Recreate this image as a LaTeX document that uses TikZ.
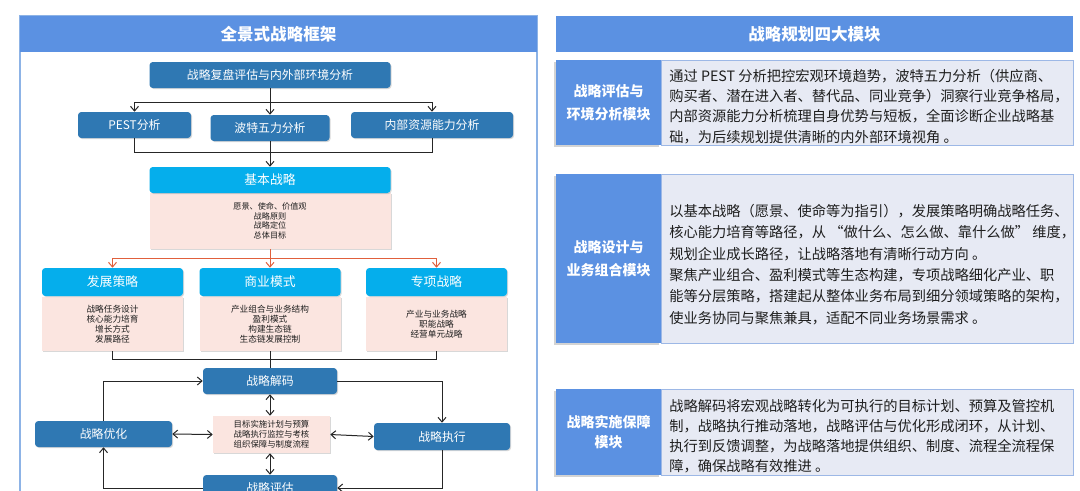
\documentclass[tikz,border=0pt]{standalone}
\usepackage{fontspec}
\setmainfont{Noto Sans CJK SC}
\usetikzlibrary{arrows.meta,shadows}

\definecolor{titleblue}{HTML}{5B91E2}
\definecolor{paneledge}{HTML}{8DB3E6}
\definecolor{stepblue}{HTML}{2F78B3}
\definecolor{basecyan}{HTML}{05AEEC}
\definecolor{bodypink}{HTML}{FBE5E0}
\definecolor{flowred}{HTML}{E0603C}
\definecolor{modfill}{HTML}{E7EAF4}
\definecolor{modedge}{HTML}{9DB8E6}
\definecolor{inktext}{HTML}{1E1E1E}

\newcommand{\fs}[2]{\fontsize{#1}{#2}\selectfont}

\tikzset{
  wh/.style 2 args={minimum width=#1*0.75pt, minimum height=#2*0.75pt},
  ttl/.style={fill=titleblue, text=white, font=\bfseries\fs{12.4}{14}, inner sep=0pt},
  stepbox/.style={fill=stepblue, text=white, rounded corners=2.5pt, inner sep=0pt, font=\fs{8.9}{10},
    drop shadow={shadow xshift=0.8pt, shadow yshift=-0.8pt, opacity=0.3}},
  cyanhd/.style={fill=basecyan, text=white, rounded corners=2.5pt, inner sep=0pt, font=\fs{9.6}{10},
    drop shadow={shadow xshift=0.8pt, shadow yshift=-0.8pt, opacity=0.3}},
  pinkbd/.style={fill=bodypink, text=inktext, inner sep=0pt, align=center, font=\fs{6.5}{7.6},
    drop shadow={shadow xshift=0.8pt, shadow yshift=-0.8pt, opacity=0.3}},
  ln/.style={line width=0.75pt, black!85},
  arr/.style={ln, -{Straight Barb[length=3.5pt,width=6pt]}},
  darr/.style={ln, {Straight Barb[length=3.5pt,width=6pt]}-{Straight Barb[length=3.5pt,width=6pt]}},
  rln/.style={line width=0.75pt, flowred},
  rarr/.style={rln, -{Straight Barb[length=3.5pt,width=6pt]}},
  modlbl/.style={fill=titleblue, text=white, font=\bfseries\fs{10.5}{17}, align=center, inner sep=0pt,
    drop shadow={shadow xshift=-1.2pt, shadow yshift=-1.5pt, opacity=0.35}},
  modbox/.style={fill=modfill, draw=modedge, line width=0.6pt, inner sep=0pt},
  modtxt/.style={text=inktext, align=left, anchor=west, inner sep=0pt},
}

\begin{document}
\begin{tikzpicture}[x=0.75pt,y=-0.75pt]
\useasboundingbox (0,0) rectangle (1080,490);
\clip (0,0) rectangle (1080,490);

% left panel
\draw[paneledge, fill=white, line width=0.8pt] (20,16) rectangle (537,500);
\node[ttl, wh={517}{36}] (ltitle) at (278.5,34) {全景式战略框架};

\node[stepbox, wh={241}{26}] (review) at (270,75) {战略复盘评估与内外部环境分析};
\node[stepbox, wh={113}{26}] (pest) at (134.5,125) {PEST分析};
\node[stepbox, wh={119}{26}] (porter) at (270,128) {波特五力分析};
\node[stepbox, wh={162}{26}] (inner) at (432,125) {内部资源能力分析};
\coordinate (j1) at (270,102);
\coordinate (j2) at (270,152);
\draw[ln] (review.south) -- (j1);
\draw[arr] (j1) -| (pest.north);
\draw[arr] (j1) -- (porter.north);
\draw[arr] (j1) -| (inner.north);
\draw[ln] (pest.south) |- (j2);
\draw[ln] (inner.south) |- (j2);
\draw[ln] (porter.south) -- (j2);

\node[pinkbd, wh={241}{56}, font=\fs{6.1}{7.2}] (basicbd) at (270,221) {愿景、使命、价值观\\战略原则\\战略定位\\总体目标};
\node[cyanhd, wh={241}{26}] (basichd) at (270,180) {基本战略};
\draw[arr] (j2) -- (basichd.north);

\node[pinkbd, wh={141}{54}] (devbd) at (112.5,324) {战略任务设计\\核心能力培育\\增长方式\\发展路径};
\node[pinkbd, wh={141}{54}] (bizbd) at (270,324) {产业组合与业务结构\\盈利模式\\构建生态链\\生态链发展控制};
\node[pinkbd, wh={141}{54}] (specbd) at (436.5,324) {产业与业务战略\\职能战略\\经营单元战略};
\node[cyanhd, wh={141}{28}] (dev) at (112.5,282) {发展策略};
\node[cyanhd, wh={141}{28}] (biz) at (270,282) {商业模式};
\node[cyanhd, wh={141}{28}] (spec) at (436.5,282) {专项战略};
\coordinate (j3) at (270,258);
\draw[rln] (basicbd.south) -- (j3);
\draw[rarr] (j3) -| (dev.north);
\draw[rarr] (j3) -- (biz.north);
\draw[rarr] (j3) -| (spec.north);

% implementation loop
\node[stepbox, wh={134}{26}] (dec) at (270,381) {战略解码};
\node[stepbox, wh={137}{26}] (opt) at (103.5,434) {战略优化};
\node[stepbox, wh={136}{27}] (exe) at (442,436.5) {战略执行};
\node[pinkbd, wh={117}{37}, font=\fs{6.3}{7.4}] (ctr) at (271.5,434.5) {目标实施计划与预算\\战略执行监控与考核\\组织保障与制度流程};
\node[stepbox, wh={134}{26}] (eval) at (270,488) {战略评估};
\coordinate (j4) at (270,359);
\draw[ln] (devbd.south) |- (j4);
\draw[ln] (specbd.south) |- (j4);
\draw[ln] (bizbd.south) -- (dec.north);
\draw[arr] (opt.north) |- (dec.west);
\draw[arr] (dec.east) -| (exe.north);
\draw[arr] (exe.south) |- (eval.east);
\draw[arr] (eval.west) -| (opt.south);
\draw[darr] (dec.south) -- (dec.south |- ctr.north);
\draw[darr] (ctr.west) -- (opt.east);
\draw[darr] (ctr.east) -- (exe.west);
\draw[darr] (eval.north |- ctr.south) -- (eval.north);

% right panel
\node[ttl, wh={517}{36}] (rtitle) at (814.5,34) {战略规划四大模块};

\node[modbox, wh={412}{85}] (box1) at (867,102.5) {};
\node[modlbl, wh={105}{85}] (lbl1) at (608.5,102.5) {战略评估与\\环境分析模块};
\node[modtxt, font=\fs{10.7}{15.2}] (txt1) at (669,106.5) {通过 PEST 分析把控宏观环境趋势，波特五力分析（供应商、\\
购买者、潜在进入者、替代品、同业竞争）洞察行业竞争格局，\\
内部资源能力分析梳理自身优势与短板，全面诊断企业战略基\\
础，为后续规划提供清晰的内外部环境视角 。};

\node[modbox, wh={412}{169}] (box2) at (867,258.5) {};
\node[modlbl, wh={105}{169}] (lbl2) at (608.5,258.5) {战略设计与\\业务组合模块};
\node[modtxt, font=\fs{10.7}{16}] (txt2) at (669,264.5) {以基本战略（愿景、使命等为指引），发展策略明确战略任务、\\
核心能力培育等路径，从 “做什么、怎么做、靠什么做” 维度，\\
规划企业成长路径，让战略落地有清晰行动方向 。\\
聚焦产业组合、盈利模式等生态构建，专项战略细化产业、职\\
能等分层策略，搭建起从整体业务布局到细分领域策略的架构，\\
使业务协同与聚焦兼具，适配不同业务场景需求 。};

\node[modbox, wh={412}{86}] (box3) at (867,432) {};
\node[modlbl, wh={105}{86}, font=\bfseries\fs{10.5}{15}] (lbl3) at (608.5,432) {战略实施保障\\模块};
\node[modtxt, font=\fs{10.7}{15}] (txt3) at (669,436) {战略解码将宏观战略转化为可执行的目标计划、预算及管控机\\
制，战略执行推动落地，战略评估与优化形成闭环，从计划、\\
执行到反馈调整，为战略落地提供组织、制度、流程全流程保\\
障，确保战略有效推进 。};
\end{tikzpicture}
\end{document}
